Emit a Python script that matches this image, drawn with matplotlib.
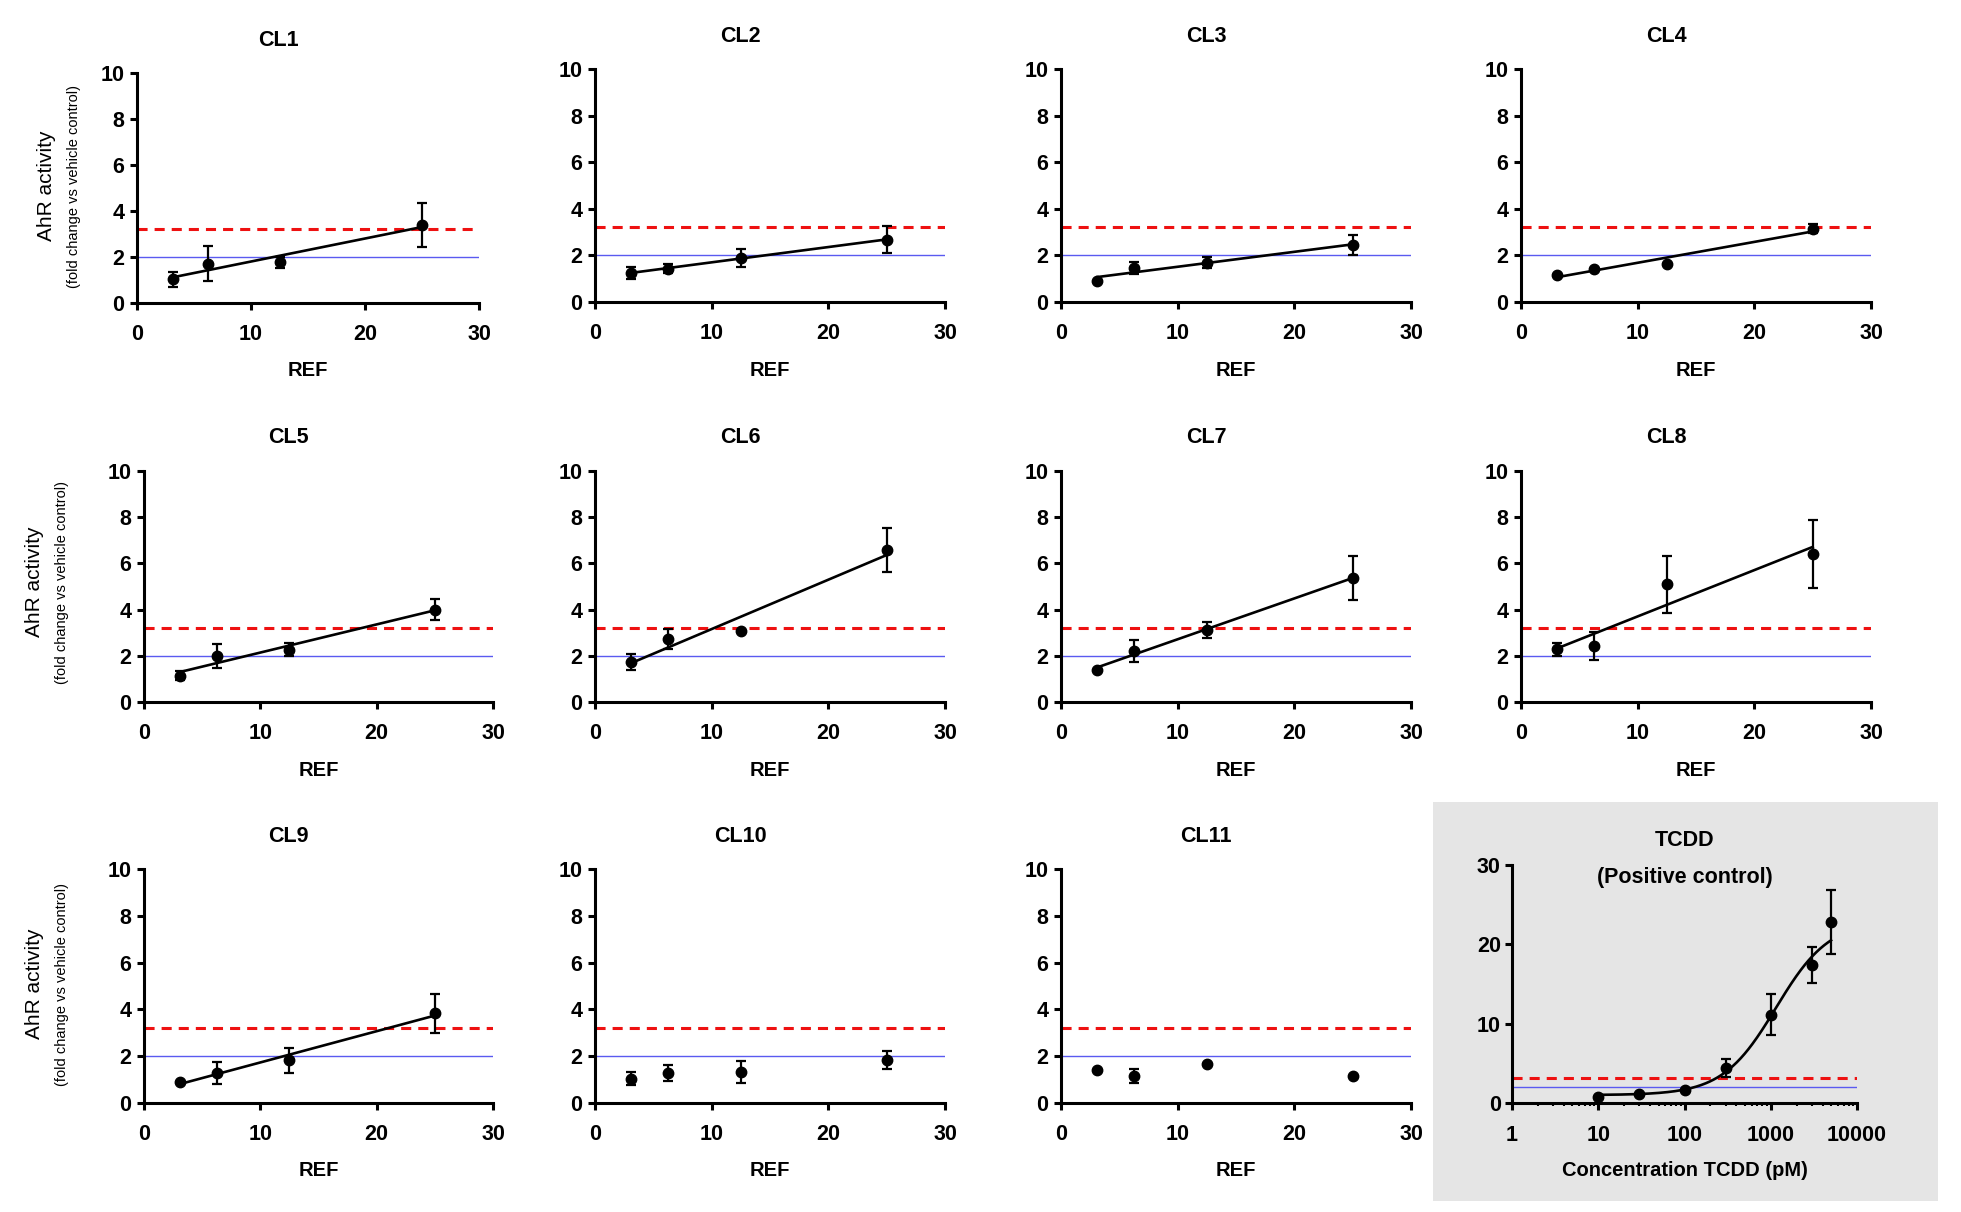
import numpy as np
import matplotlib
matplotlib.use("Agg")
import matplotlib.pyplot as plt
from matplotlib.patches import Rectangle
from matplotlib.ticker import FixedLocator, FixedFormatter, LogLocator, NullFormatter

plt.rcParams['font.family'] = ['Liberation Sans', 'DejaVu Sans']

# ---------------- data ----------------
ref_conc = [3.125, 6.25, 12.5, 25.0]

cl1_mean = [1.03, 1.71, 1.78, 3.38]
cl1_sem = [0.32, 0.75, 0.24, 0.95]
cl2_mean = [1.26, 1.43, 1.89, 2.68]
cl2_sem = [0.26, 0.20, 0.39, 0.57]
cl3_mean = [0.90, 1.46, 1.69, 2.44]
cl3_sem = [0.0, 0.24, 0.22, 0.43]
cl4_mean = [1.17, 1.42, 1.62, 3.14]
cl4_sem = [0.0, 0.0, 0.0, 0.20]
cl5_mean = [1.14, 1.99, 2.27, 4.00]
cl5_sem = [0.20, 0.52, 0.29, 0.46]
cl6_mean = [1.73, 2.73, 3.06, 6.58]
cl6_sem = [0.35, 0.43, 0.0, 0.94]
cl7_mean = [1.40, 2.21, 3.10, 5.37]
cl7_sem = [0.0, 0.48, 0.35, 0.94]
cl8_mean = [2.28, 2.42, 5.09, 6.41]
cl8_sem = [0.27, 0.60, 1.24, 1.46]
cl9_mean = [0.90, 1.29, 1.83, 3.83]
cl9_sem = [0.0, 0.47, 0.54, 0.84]
cl10_mean = [1.04, 1.29, 1.33, 1.83]
cl10_sem = [0.28, 0.33, 0.46, 0.38]
cl11_mean = [1.40, 1.16, 1.67, 1.14]
cl11_sem = [0.0, 0.30, 0.0, 0.0]

panel_names = ['CL1', 'CL2', 'CL3', 'CL4', 'CL5', 'CL6', 'CL7', 'CL8',
               'CL9', 'CL10', 'CL11']
panel_means = [cl1_mean, cl2_mean, cl3_mean, cl4_mean, cl5_mean, cl6_mean,
               cl7_mean, cl8_mean, cl9_mean, cl10_mean, cl11_mean]
panel_sems = [cl1_sem, cl2_sem, cl3_sem, cl4_sem, cl5_sem, cl6_sem,
              cl7_sem, cl8_sem, cl9_sem, cl10_sem, cl11_sem]
panel_has_fit = [True, True, True, True, True, True, True, True, True, False, False]

tcdd_conc = [10, 30, 100, 300, 1000, 3000, 5000]
tcdd_mean = [0.76, 1.09, 1.60, 4.41, 11.12, 17.42, 22.83]
tcdd_sem = [0.0, 0.0, 0.0, 1.15, 2.56, 2.30, 4.07]
# four-parameter logistic fit parameters
tcdd_bottom = 1.0
tcdd_top = 23.0
tcdd_ec50 = 1150.0
tcdd_hill = 1.4

threshold_red = 3.2
threshold_blue = 2.0

x_ticks = [0, 10, 20, 30]
x_tick_labels = ['0', '10', '20', '30']
y_ticks = [0, 2, 4, 6, 8, 10]
y_tick_labels = ['0', '2', '4', '6', '8', '10']
tcdd_x_ticks = [1, 10, 100, 1000, 10000]
tcdd_x_tick_labels = ['1', '10', '100', '1000', '10000']
tcdd_y_ticks = [0, 10, 20, 30]
tcdd_y_tick_labels = ['0', '10', '20', '30']

# ---------------- layout ----------------
W, H = 1961, 1212
DPI = 100
fig = plt.figure(figsize=(W / DPI, H / DPI), dpi=DPI)
fig.patch.set_facecolor('white')

# axes boxes in pixels: left, top, right, bottom
boxes = [
    (137, 73, 479, 303), (595, 69, 945, 302), (1061, 69, 1411, 302), (1521, 69, 1871, 302),
    (144, 471, 493, 702), (595, 471, 945, 702), (1061, 471, 1411, 702), (1521, 471, 1871, 702),
    (144, 869, 493, 1103), (595, 869, 945, 1103), (1061, 869, 1411, 1103),
]
tcdd_box = (1512, 865, 1857, 1103)

# grey background for the positive control
fig.patches.append(Rectangle((1433 / W, 1 - 1201 / H), (1938 - 1433) / W, (1201 - 802) / H,
                             transform=fig.transFigure, facecolor='#e5e5e5',
                             edgecolor='none', zorder=-5))

SPINE_W = 2.2
RED = '#ee1111'
BLUE = '#5a5af0'
TICK_FS = 15.5


def make_axes(box):
    l, t, r, b = box
    ax = fig.add_axes([l / W, 1 - b / H, (r - l) / W, (b - t) / H])
    ax.patch.set_alpha(0)
    for s in ('top', 'right'):
        ax.spines[s].set_visible(False)
    for s in ('left', 'bottom'):
        ax.spines[s].set_linewidth(SPINE_W)
        ax.spines[s].set_capstyle('projecting')
    ax.tick_params(which='major', direction='out', length=5, width=SPINE_W,
                   labelsize=TICK_FS)
    ax.tick_params(axis='x', which='major', pad=10)
    ax.tick_params(axis='y', which='major', pad=4)
    return ax


def thresholds(ax):
    ax.axhline(threshold_blue, color=BLUE, lw=1.0, zorder=1)
    ln = ax.axhline(threshold_red, color=RED, lw=2.2, zorder=1)
    ln.set_dashes([3.3, 2.3])


for i, (name, mean, sem, fit, box) in enumerate(zip(panel_names, panel_means, panel_sems,
                                                     panel_has_fit, boxes)):
    ax = make_axes(box)
    ax.set_xlim(0, 30)
    ax.set_ylim(0, 10)
    ax.xaxis.set_major_locator(FixedLocator(x_ticks))
    ax.xaxis.set_major_formatter(FixedFormatter(x_tick_labels))
    ax.yaxis.set_major_locator(FixedLocator(y_ticks))
    ax.yaxis.set_major_formatter(FixedFormatter(y_tick_labels))
    for lab in ax.get_xticklabels() + ax.get_yticklabels():
        lab.set_fontweight('bold')
    thresholds(ax)
    x = np.array(ref_conc)
    y = np.array(mean)
    if fit:
        slope, intercept = np.polyfit(x, y, 1)
        xs = np.array([x[0], x[-1]])
        ax.plot(xs, slope * xs + intercept, color='black', lw=1.9, zorder=3)
    ax.errorbar(x, y, yerr=sem, fmt='o', color='black', ms=7.5, elinewidth=1.6,
                capsize=3.5, capthick=1.6, zorder=4)
    l, t, r, b = box
    hpx = b - t
    ax.text(0.415, 1 + 33 / hpx, name, transform=ax.transAxes, ha='center',
            va='center', fontsize=15.5, fontweight='bold')
    ax.set_xlabel('REF', fontsize=14.5, fontweight='bold')
    ax.xaxis.set_label_coords(0.5, -68 / hpx)
    ax.xaxis.label.set_verticalalignment('center')

# y-axis labels for each row
row_label_pos = [(47, 74, 186), (34, 62, 582), (34, 62, 984)]
for xa, xb, yc in row_label_pos:
    fig.text(xa / W, 1 - yc / H, 'AhR activity', rotation=90, ha='center', va='center',
             fontsize=15)
    fig.text(xb / W, 1 - yc / H, '(fold change vs vehicle control)', rotation=90,
             ha='center', va='center', fontsize=10.5)

# ---------------- TCDD positive control ----------------
ax = make_axes(tcdd_box)
ax.set_xscale('log')
ax.set_xlim(1, 10000)
ax.set_ylim(0, 30)
ax.xaxis.set_major_locator(FixedLocator(tcdd_x_ticks))
ax.xaxis.set_major_formatter(FixedFormatter(tcdd_x_tick_labels))
ax.xaxis.set_minor_locator(LogLocator(base=10, subs=np.arange(2, 10)))
ax.xaxis.set_minor_formatter(NullFormatter())
ax.yaxis.set_major_locator(FixedLocator(tcdd_y_ticks))
ax.yaxis.set_major_formatter(FixedFormatter(tcdd_y_tick_labels))
ax.tick_params(axis='x', which='minor', direction='out', length=2.5, width=1.5)
ax.tick_params(axis='x', which='major', pad=11)
ax.tick_params(axis='y', which='major', pad=3)
for lab in ax.get_xticklabels() + ax.get_yticklabels():
    lab.set_fontweight('bold')
thresholds(ax)
xc = np.logspace(np.log10(tcdd_conc[0]), np.log10(tcdd_conc[-1]), 300)
yc = tcdd_bottom + (tcdd_top - tcdd_bottom) / (1 + (tcdd_ec50 / xc) ** tcdd_hill)
ax.plot(xc, yc, color='black', lw=1.9, zorder=3)
ax.errorbar(tcdd_conc, tcdd_mean, yerr=tcdd_sem, fmt='o', color='black', ms=7.5,
            elinewidth=1.6, capsize=3.5, capthick=1.6, zorder=4)
l, t, r, b = tcdd_box
hpx = b - t
ax.text(0.5, 1 + (865 - 840) / hpx, 'TCDD', transform=ax.transAxes, ha='center',
        va='center', fontsize=15.5, fontweight='bold')
ax.text(0.5, 1 - (877 - 865) / hpx, '(Positive control)', transform=ax.transAxes,
        ha='center', va='center', fontsize=15.5, fontweight='bold')
ax.set_xlabel('Concentration TCDD (pM)', fontsize=14.5, fontweight='bold')
ax.xaxis.set_label_coords(0.5, -(1170 - 1103) / hpx)
ax.xaxis.label.set_verticalalignment('center')

fig.savefig('out.png', dpi=DPI)
